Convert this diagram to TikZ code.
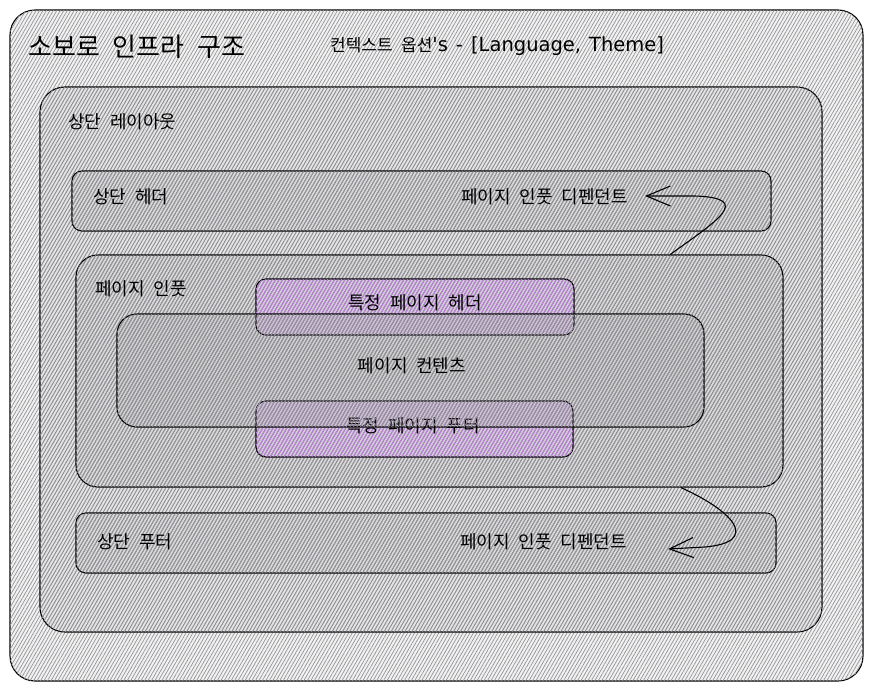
\documentclass[tikz,border=0pt]{standalone}
\usepackage{fontspec}
\setmainfont[WordSpace=2.2]{Noto Sans CJK KR}
\newfontfamily\latinhand[WordSpace=1.3]{DejaVu Sans}
\usetikzlibrary{arrows.meta, positioning, calc, patterns.meta}
\definecolor{hatchgray}{RGB}{120,120,125}
\definecolor{hatchpurple}{RGB}{180,90,225}

\begin{document}
\begin{tikzpicture}[x=1pt, y=-1pt,
  box/.style={draw, line width=1.1pt, inner sep=0pt, fill=#1, fill opacity=0.10,
    postaction={pattern={Lines[angle=60, distance=3pt, line width=0.7pt]}, pattern color=#1!80}},
  box/.default=hatchgray,
  lbl/.style={font=\fontsize{18}{21}\selectfont, inner sep=2pt, text opacity=1},
  e/.style={-{Straight Barb[length=24pt, width=20pt]}, line width=1.1pt}]
  \useasboundingbox (0,0) rectangle (873,691);
  \fill[white] (0,0) rectangle (873,691);
  % boxes
  \node[box, rounded corners=25pt, minimum width=853pt, minimum height=671pt] (outer) at (436.5,345.5) {};
  \node[box, rounded corners=25pt, minimum width=782pt, minimum height=545pt] (layout) at (431,359.5) {};
  \node[box, rounded corners=10pt, minimum width=699pt, minimum height=60pt] (hdr) at (421.5,201) {};
  \node[box, rounded corners=22pt, minimum width=707pt, minimum height=232pt] (ptin) at (429.5,371) {};
  \node[box=hatchpurple, rounded corners=10pt, minimum width=318pt, minimum height=56pt] (sphdr) at (415,307) {};
  \node[box=hatchpurple, rounded corners=10pt, minimum width=317pt, minimum height=56pt] (spftr) at (414.5,429) {};
  \node[lbl] (sphdrtxt) at (415,303) {특정 페이지 헤더};
  \node[lbl] (spftrtxt) at (413,426) {특정 페이지 푸터};
  \node[box, rounded corners=20pt, minimum width=587pt, minimum height=113pt] (content) at (410.5,370.5) {};
  \node[box, rounded corners=10pt, minimum width=700pt, minimum height=60pt] (ftr) at (426,543) {};
  % labels
  \node[lbl, anchor=west, font=\fontsize{26}{30}\selectfont] (title) at (26,47) {소보로 인프라 구조};
  \node[lbl, anchor=west, font=\fontsize{17}{20}\selectfont] (ctx) at (328,46) {컨텍스트 옵션{\latinhand\fontsize{19.5}{22}\selectfont's - [Language, Theme]}};
  \node[lbl, anchor=west] (layouttxt) at (66,122) {상단 레이아웃};
  \node[lbl, anchor=west] (hdrtxt) at (91,197) {상단 헤더};
  \node[lbl, anchor=east] (hdrdep) at (630,197) {페이지 인풋 디펜던트};
  \node[lbl, anchor=west] (ptintxt) at (93,289) {페이지 인풋};
  \node[lbl] (contenttxt) at (412,366) {페이지 컨텐츠};
  \node[lbl, anchor=west] (ftrtxt) at (95,542) {상단 푸터};
  \node[lbl, anchor=east] (ftrdep) at (629,542) {페이지 인풋 디펜던트};
  % dependency arrows
  \draw[e] ($(ptin.north west)!0.84!(ptin.north east)$) .. controls (715,222) and (755,198) .. (695,196)
    -- ([xshift=15pt, yshift=1pt]hdrdep.east);
  \draw[e] ($(ptin.south west)!0.855!(ptin.south east)$) .. controls (735,512) and (760,542) .. (705,547)
    -- ([xshift=39pt, yshift=-7pt]ftrdep.east);
\end{tikzpicture}
\end{document}
